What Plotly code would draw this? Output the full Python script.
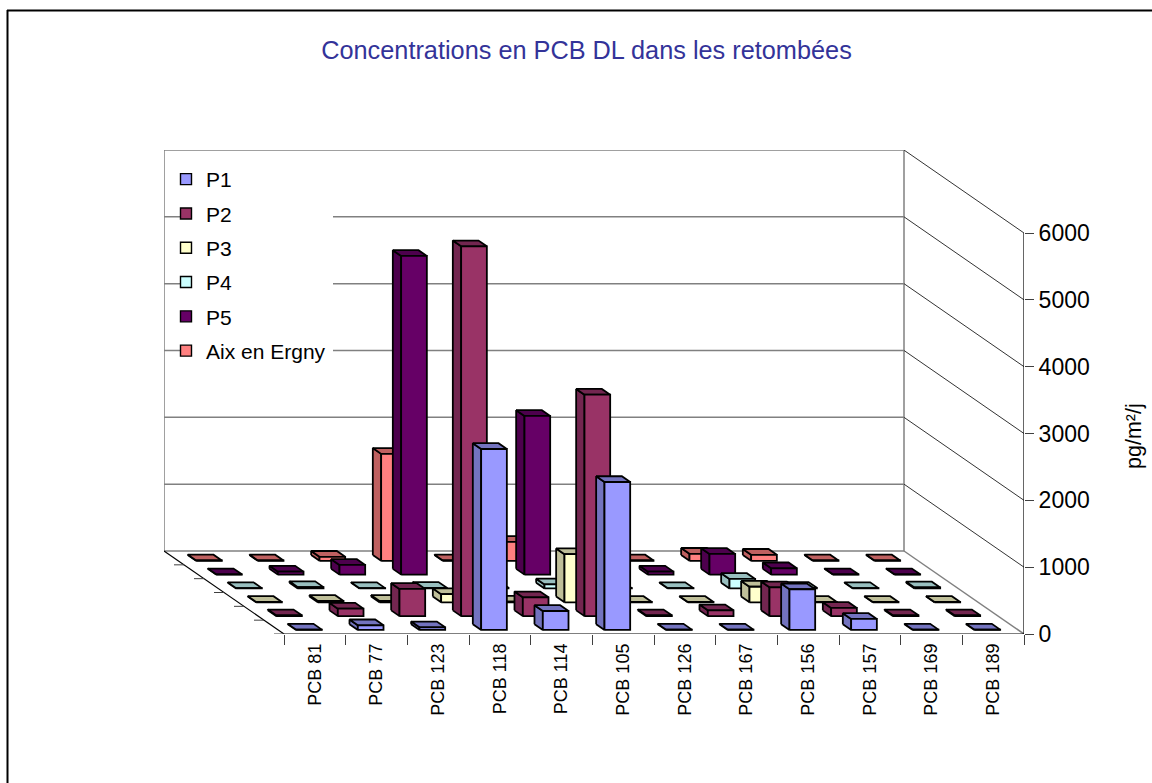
import plotly.graph_objects as go

categories = ["PCB 81", "PCB 77", "PCB 123", "PCB 118", "PCB 114", "PCB 105",
              "PCB 126", "PCB 167", "PCB 156", "PCB 157", "PCB 169", "PCB 189"]
series_names = ["P1", "P2", "P3", "P4", "P5", "Aix en Ergny"]
p1 = [5, 70, 40, 2708, 284, 2214, 5, 5, 609, 165, 5, 5]
p2 = [12, 112, 407, 5533, 281, 3313, 12, 87, 431, 123, 12, 12]
p3 = [5, 20, 20, 122, 10, 720, 5, 5, 233, 5, 5, 5]
p4 = [5, 20, 5, 10, 10, 60, 5, 5, 142, 10, 5, 15]
p5 = [5, 45, 145, 4768, 5, 2374, 5, 45, 310, 95, 5, 5]
aix = [5, 5, 60, 1600, 5, 283, 5, 5, 105, 90, 5, 5]
series_values = [p1, p2, p3, p4, p5, aix]
front_colors = ["#9999FF", "#993366", "#FFFFCC", "#CCFFFF", "#660066", "#FF8080"]
shade_colors = ["#7373BF", "#732650", "#BFBF99", "#99BFBF", "#4D004D", "#BF6060"]
value_ticks = [0, 1000, 2000, 3000, 4000, 5000, 6000]

W, H = 1152, 783
PL, PR, PT, PB = 164, 1024, 150, 634      # plot-area pixels
X_PER_PX = 12 / (PR - 284)
Y_PER_PX = 6000 / 401
DX = (284 - PL) * X_PER_PX                # shift of the full depth, in axis units
DY = (PB - 551) * Y_PER_PX
X0 = -DX
Y1 = 6000 + DY
BAR = 1 / 2.4                             # gap width 140 %


def proj(u, v, d):
    return u - DX * d, v + DY * d


def poly(points):
    xs, ys = [], []
    for u, v, d in points:
        x, y = proj(u, v, d)
        xs.append(x)
        ys.append(y)
    xs += [xs[0], None]
    ys += [ys[0], None]
    return xs, ys


def segs(items):
    xs, ys = [], []
    for a, b in items:
        xa, ya = proj(*a)
        xb, yb = proj(*b)
        xs += [xa, xb, None]
        ys += [ya, yb, None]
    return xs, ys


fig = go.Figure()
line_trace = dict(mode="lines", showlegend=False, hoverinfo="skip")

# back wall and side wall
back = [((0, v, 1), (12, v, 1)) for v in value_ticks]
back += [((0, 0, 1), (0, 6000, 1)), ((12, 0, 1), (12, 6000, 1))]
x, y = segs(back)
fig.add_trace(go.Scatter(x=x, y=y, line=dict(color="#808080", width=1.5), **line_trace))
side = [((12, v, 1), (12, v, 0)) for v in value_ticks[1:]]
x, y = segs(side)
fig.add_trace(go.Scatter(x=x, y=y, line=dict(color="#333333", width=1), **line_trace))
x, y = segs([((12, 0, 1), (12, 0, 0))])
fig.add_trace(go.Scatter(x=x, y=y, line=dict(color="#808080", width=1.5), **line_trace))

# axis lines
axes = [((0, 0, 0), (12, 0, 0)), ((0, 0, 0), (0, 0, 1)), ((12, 0, 0), (12, 6000, 0))]
x, y = segs(axes)
fig.add_trace(go.Scatter(x=x, y=y, line=dict(color="#000000", width=1.2), **line_trace))
# depth ticks along the left floor edge
tick_len = 10 * X_PER_PX
dt_x, dt_y = [], []
for i in range(7):
    xa, ya = proj(0, 0, i / 6)
    dt_x += [xa, xa - tick_len, None]
    dt_y += [ya, ya, None]
fig.add_trace(go.Scatter(x=dt_x, y=dt_y, line=dict(color="#404040", width=1), **line_trace))

# bars, back series first
for s in range(len(series_names) - 1, -1, -1):
    d0 = (s + 0.5 - BAR / 2) / 6
    d1 = (s + 0.5 + BAR / 2) / 6
    fx, fy, tx, ty, lx, ly = [], [], [], [], [], []
    for k, val in enumerate(series_values[s]):
        u0 = k + 0.5 - BAR / 2
        u1 = k + 0.5 + BAR / 2
        a, b = poly([(u0, 0, d1), (u0, val, d1), (u0, val, d0), (u0, 0, d0)])
        lx += a
        ly += b
        a, b = poly([(u0, val, d0), (u0, val, d1), (u1, val, d1), (u1, val, d0)])
        tx += a
        ty += b
        a, b = poly([(u0, 0, d0), (u0, val, d0), (u1, val, d0), (u1, 0, d0)])
        fx += a
        fy += b
    style = dict(mode="lines", fill="toself", showlegend=False, hoverinfo="skip")
    edge = dict(color="#000000", width=1.8)
    fig.add_trace(go.Scatter(x=lx, y=ly, fillcolor=shade_colors[s], line=edge, **style))
    fig.add_trace(go.Scatter(x=tx, y=ty, fillcolor=shade_colors[s], line=edge, **style))
    fig.add_trace(go.Scatter(x=fx, y=fy, fillcolor=front_colors[s], line=edge, **style))

# legend entries
for s, name in enumerate(series_names):
    fig.add_trace(go.Scatter(
        x=[None], y=[None], mode="markers", name=name, legendgroup=name,
        marker=dict(symbol="square", size=11, color=front_colors[s],
                    line=dict(color="#000000", width=1.4))))

FONT = "Liberation Sans, Arial, sans-serif"
fig.update_layout(
    width=W, height=H,
    margin=dict(l=PL, r=W - PR, t=PT, b=H - PB, pad=0),
    paper_bgcolor="white", plot_bgcolor="white",
    font=dict(family=FONT, color="#000000", size=17),
    title=dict(text="Concentrations en PCB DL dans les retombées",
               x=586.5 / W, xanchor="center", y=1 - 50 / H, yanchor="middle",
               font=dict(family=FONT, size=25.3, color="#333399")),
    xaxis=dict(range=[X0, 12], showgrid=False, zeroline=False, showline=False,
               tickmode="array",
               tickvals=[k + 0.5 for k in range(len(categories))], ticktext=categories,
               tickangle=-90, ticks="", tickfont=dict(size=18), ticklabelstandoff=5,
               minor=dict(tickmode="array", tickvals=list(range(13)), ticks="outside",
                          ticklen=10, tickcolor="#404040", showgrid=False)),
    yaxis=dict(range=[0, Y1], side="right", showgrid=False, zeroline=False, showline=False,
               tickmode="array", tickvals=value_ticks,
               ticks="outside", ticklen=9, tickcolor="#404040",
               tickfont=dict(size=23), ticklabelstandoff=0),
    legend=dict(x=(166 - PL) / (PR - PL), xanchor="left",
                y=1 - (159 - PT) / (PB - PT), yanchor="top",
                bgcolor="rgba(0,0,0,0)", traceorder="grouped", tracegroupgap=4,
                font=dict(size=21), itemclick=False, itemdoubleclick=False),
    showlegend=True,
    shapes=[
        dict(type="rect", xref="paper", yref="paper", layer="above",
             x0=(180 - PL) / (PR - PL), x1=(333 - PL) / (PR - PL),
             y0=1 - (168 - PT) / (PB - PT), y1=1 - (365 - PT) / (PB - PT),
             fillcolor="white", line=dict(width=0)),
        dict(type="line", xref="paper", yref="paper", layer="above",
             x0=(7 - PL) / (PR - PL), x1=(1152 - PL) / (PR - PL),
             y0=1 - (10.5 - PT) / (PB - PT), y1=1 - (10.5 - PT) / (PB - PT),
             line=dict(color="#000000", width=2)),
        dict(type="line", xref="paper", yref="paper", layer="above",
             x0=(7.5 - PL) / (PR - PL), x1=(7.5 - PL) / (PR - PL),
             y0=1 - (10 - PT) / (PB - PT), y1=1 - (783 - PT) / (PB - PT),
             line=dict(color="#000000", width=2)),
    ],
    annotations=[dict(text="pg/m²/j", xref="paper", yref="paper", showarrow=False,
                      x=(1134 - PL) / (PR - PL), y=1 - (436 - PT) / (PB - PT),
                      xanchor="center", yanchor="middle", textangle=-90,
                      font=dict(size=21.5))],
)

fig.write_html("out.html", config={"displayModeBar": False},
               post_script="document.body.style.margin='0';document.body.style.overflow='hidden';")
